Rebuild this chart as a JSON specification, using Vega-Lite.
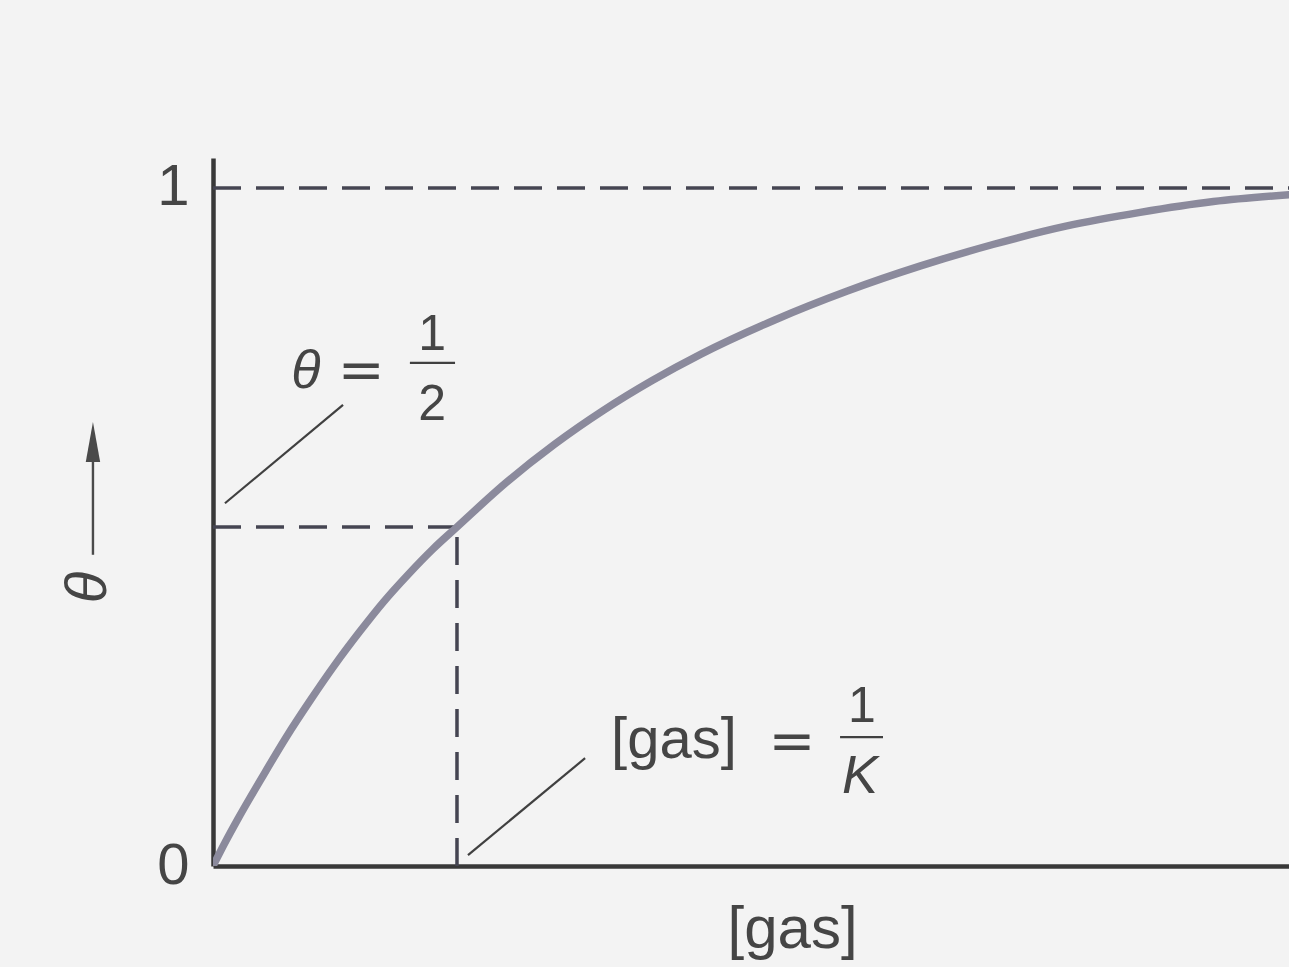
{
  "$schema": "https://vega.github.io/schema/vega-lite/v6.json",
  "width": 1076,
  "height": 708,
  "autosize": {"type": "none"},
  "padding": {"left": 213, "top": 158, "right": 0, "bottom": 101},
  "background": "#f3f3f3",
  "config": {
    "view": {"stroke": null},
    "font": "Liberation Sans",
    "axis": {"grid": false, "ticks": false, "tickSize": 0, "domainColor": "#383838", "domainWidth": 4.5, "titleFontWeight": "normal", "titleColor": "#454545", "labelColor": "#454545"}
  },
  "datasets": {
    "curve": [
      {"gas": 0.0, "theta": 0.0},
      {"gas": 0.05, "theta": 0.035},
      {"gas": 0.1, "theta": 0.068},
      {"gas": 0.2, "theta": 0.13},
      {"gas": 0.3, "theta": 0.19},
      {"gas": 0.4, "theta": 0.245},
      {"gas": 0.5, "theta": 0.297},
      {"gas": 0.6, "theta": 0.345},
      {"gas": 0.7, "theta": 0.39},
      {"gas": 0.8, "theta": 0.43},
      {"gas": 0.9, "theta": 0.467},
      {"gas": 1.0, "theta": 0.5},
      {"gas": 1.2, "theta": 0.565},
      {"gas": 1.4, "theta": 0.622},
      {"gas": 1.6, "theta": 0.672},
      {"gas": 1.8, "theta": 0.716},
      {"gas": 2.0, "theta": 0.755},
      {"gas": 2.3, "theta": 0.805},
      {"gas": 2.6, "theta": 0.848},
      {"gas": 2.9, "theta": 0.885},
      {"gas": 3.2, "theta": 0.917},
      {"gas": 3.5, "theta": 0.944},
      {"gas": 3.8, "theta": 0.964},
      {"gas": 4.1, "theta": 0.98},
      {"gas": 4.41, "theta": 0.99}
    ],
    "guides": [
      {"gas": 0, "gas2": 4.41, "theta": 1, "theta2": 1},
      {"gas": 0, "gas2": 1, "theta": 0.5, "theta2": 0.5},
      {"gas": 1, "gas2": 1, "theta": 0, "theta2": 0.5}
    ],
    "leaders": [
      {"gas": 0.049, "gas2": 0.533, "theta": 0.535, "theta2": 0.68},
      {"gas": 1.045, "gas2": 1.525, "theta": 0.016, "theta2": 0.159},
      {"gas": 0.807, "gas2": 0.992, "theta": 0.742, "theta2": 0.742},
      {"gas": 2.57, "gas2": 2.746, "theta": 0.19, "theta2": 0.19}
    ],
    "arrow": [
      {"gas": -0.492, "gas2": -0.492, "theta": 0.459, "theta2": 0.6}
    ],
    "arrowhead": [
      {"gas": -0.492, "theta": 0.596}
    ],
    "symbols": [
      {"gas": 1.889, "theta": 0.159, "text": "[gas]"}
    ],
    "equals": [
      {"gas": 0.607, "theta": 0.703, "text": "="},
      {"gas": 2.373, "theta": 0.156, "text": "="}
    ],
    "digits": [
      {"gas": 0.898, "theta": 0.761, "text": "1"},
      {"gas": 0.898, "theta": 0.658, "text": "2"},
      {"gas": 2.66, "theta": 0.212, "text": "1"}
    ],
    "italics": [
      {"gas": 0.381, "theta": 0.705, "text": "θ"},
      {"gas": 2.652, "theta": 0.108, "text": "K"}
    ]
  },
  "encoding": {
    "x": {
      "field": "gas", "type": "quantitative",
      "scale": {"domain": [0, 4.41], "nice": false, "zero": false},
      "axis": {"labels": false, "title": "[gas]", "titleFontSize": 60, "titleX": 579, "titleY": 34, "titleAlign": "center", "titleBaseline": "top", "titleAnchor": null}
    },
    "y": {
      "field": "theta", "type": "quantitative",
      "scale": {"domain": [0, 1.0442], "nice": false, "zero": false},
      "axis": {"values": [0, 1], "format": "d", "labelFontSize": 58, "labelPadding": 24, "labelFlush": false, "labelOverlap": false, "labelBaseline": "middle",
               "title": "θ", "titleFontStyle": "italic", "titleFontSize": 58, "titleAngle": 270,
               "titleX": -125, "titleY": 429, "titleAlign": "center", "titleBaseline": "middle"}
    }
  },
  "layer": [
    {
      "data": {"name": "guides"},
      "mark": {"type": "rule", "color": "#454552", "strokeWidth": 3.5, "strokeDash": [28, 15]},
      "encoding": {"x2": {"field": "gas2"}, "y2": {"field": "theta2"}}
    },
    {
      "data": {"name": "curve"},
      "mark": {"type": "line", "interpolate": "monotone", "color": "#8b8a9c", "strokeWidth": 7.5, "strokeCap": "round", "clip": true},
      "encoding": {}
    },
    {
      "data": {"name": "leaders"},
      "mark": {"type": "rule", "color": "#404040", "strokeWidth": 2.2},
      "encoding": {"x2": {"field": "gas2"}, "y2": {"field": "theta2"}}
    },
    {
      "data": {"name": "arrow"},
      "mark": {"type": "rule", "color": "#4a4a4a", "strokeWidth": 2.4},
      "encoding": {"x2": {"field": "gas2"}, "y2": {"field": "theta2"}}
    },
    {
      "data": {"name": "arrowhead"},
      "mark": {"type": "point", "shape": "M0,-1L0.18,0L-0.18,0Z", "size": 6400, "filled": true, "color": "#4a4a4a", "opacity": 1},
      "encoding": {}
    },
    {
      "data": {"name": "symbols"},
      "mark": {"type": "text", "fontSize": 58, "align": "center", "baseline": "alphabetic", "color": "#454545"},
      "encoding": {"text": {"field": "text"}}
    },
    {
      "data": {"name": "equals"},
      "mark": {"type": "text", "font": "DejaVu Sans", "fontSize": 56, "align": "center", "baseline": "alphabetic", "color": "#454545"},
      "encoding": {"text": {"field": "text"}}
    },
    {
      "data": {"name": "digits"},
      "mark": {"type": "text", "fontSize": 50, "align": "center", "baseline": "alphabetic", "color": "#454545"},
      "encoding": {"text": {"field": "text"}}
    },
    {
      "data": {"name": "italics"},
      "mark": {"type": "text", "fontSize": 54, "fontStyle": "italic", "align": "center", "baseline": "alphabetic", "color": "#454545"},
      "encoding": {"text": {"field": "text"}}
    }
  ]
}
